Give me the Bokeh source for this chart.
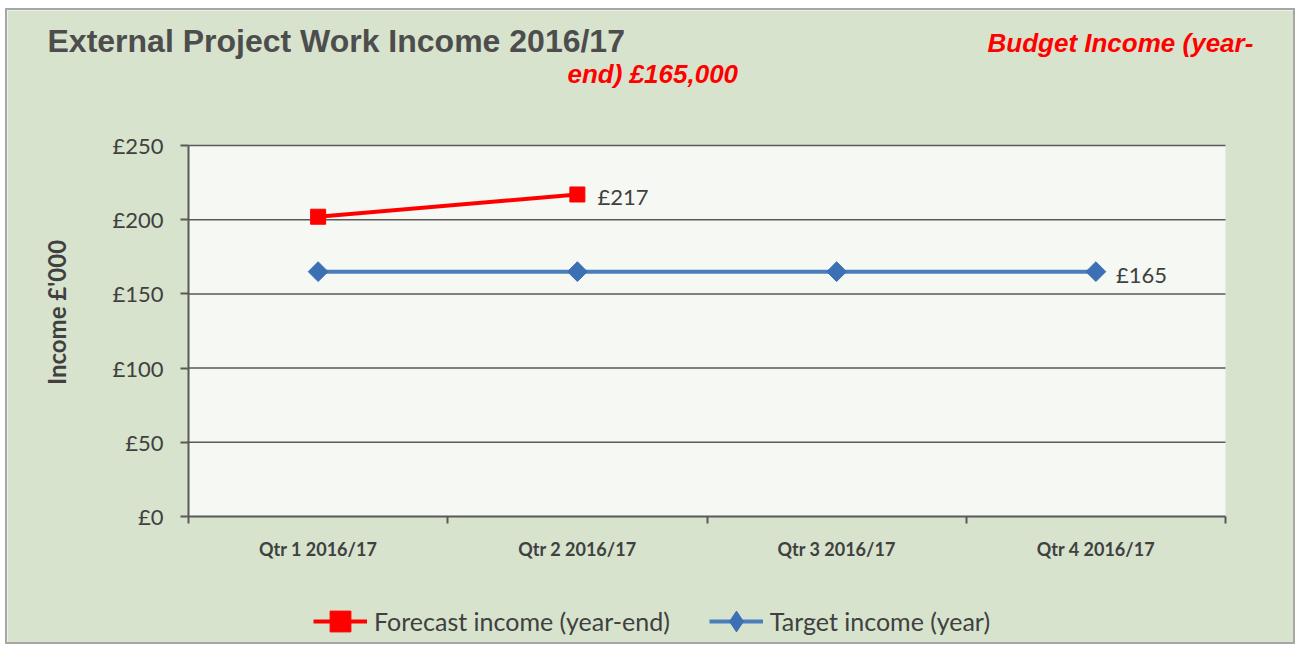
from bokeh.plotting import figure
from bokeh.models import (ColumnDataSource, Range1d, LinearAxis, FixedTicker, BoxAnnotation,
                          Label, Legend, LegendItem, CustomJSTickFormatter)
from bokeh.core.properties import value
from bokeh.embed import file_html
from bokeh.resources import INLINE
import math

# ---- data ----
quarters = ["Qtr 1 2016/17", "Qtr 2 2016/17", "Qtr 3 2016/17", "Qtr 4 2016/17"]
forecast_income = [202, 217]          # Qtr 1, Qtr 2
target_income = [165, 165, 165, 165]  # Qtr 1..4
y_ticks = [0, 50, 100, 150, 200, 250]
title_text = "External Project Work Income 2016/17"
budget_line1 = "Budget Income (year-"
budget_line2 = "end) £165,000"
y_label = "Income £'000"
series_names = ["Forecast income (year-end)", "Target income (year)"]

BG = "#d7e3cd"
PLOT_BG = "#f6f8f3"
GRID = "#595959"
TXT = "#404040"
RED = "#ff0000"
BLUE = "#4a7ebb"
BLUE_M = "#3b70b5"
FONT = "Lato"

# layout (pixels inside the figure)
W, H = 1290, 636
PL, PR, PT, PB = 181, 1218, 135, 506      # plot-area edges, from figure top-left
n = len(quarters)
ymax = y_ticks[-1]
sx = (PR - PL) / n
sy = (PB - PT) / ymax
x_range = Range1d(-PL / sx, n + (W - PR) / sx)
y_range = Range1d(-(H - PB) / sy, ymax + PT / sy)

p = figure(width=W, height=H, x_range=x_range, y_range=y_range,
           x_axis_location=None, y_axis_location=None, min_border=0,
           output_backend="svg", toolbar_location=None)
p.styles = {"border": "2px solid #a6a6a6", "margin-left": "5px", "margin-top": "8px"}
p.grid.visible = False
p.outline_line_color = None
p.background_fill_color = BG
p.border_fill_color = BG

# plot area background
p.add_layout(BoxAnnotation(left=0, right=n, bottom=y_ticks[0], top=ymax,
                           fill_color=PLOT_BG, fill_alpha=1, line_color=None, level="underlay"))
# horizontal gridlines at tick values
p.segment(x0=[0] * (len(y_ticks) - 1), x1=[n] * (len(y_ticks) - 1), y0=y_ticks[1:], y1=y_ticks[1:],
          line_color=GRID, line_width=1.5)

# y axis
ya = LinearAxis(fixed_location=0, bounds=(y_ticks[0], ymax), ticker=FixedTicker(ticks=y_ticks),
                formatter=CustomJSTickFormatter(code="return '£' + tick.toFixed(0);"),
                axis_line_color=GRID, axis_line_width=2,
                major_tick_line_color=GRID, major_tick_line_width=2, major_tick_out=8, major_tick_in=0,
                minor_tick_line_color=None,
                major_label_text_font=FONT, major_label_text_font_size="22px",
                major_label_text_color=TXT, major_label_standoff=17)
p.add_layout(ya, "left")

# x axis: boundary tick marks
xa = LinearAxis(fixed_location=0, bounds=(0, n), ticker=FixedTicker(ticks=list(range(n + 1))),
                major_label_text_font_size="0px", major_label_standoff=0,
                axis_line_color=GRID, axis_line_width=2,
                major_tick_line_color=GRID, major_tick_line_width=2, major_tick_out=7, major_tick_in=0,
                minor_tick_line_color=None)
p.add_layout(xa, "below")
# x axis: category names at the category centres
qx = [i + 0.5 for i in range(n)]
xc = LinearAxis(fixed_location=0, ticker=FixedTicker(ticks=qx),
                formatter=CustomJSTickFormatter(args=dict(names=quarters),
                                                code="return names[Math.floor(tick)];"),
                axis_line_color=None, major_tick_line_color=None, minor_tick_line_color=None,
                major_label_text_font=FONT, major_label_text_font_style="bold",
                major_label_text_font_size="18px", major_label_text_color=TXT,
                major_label_standoff=15)
p.add_layout(xc, "below")

# series
fsrc = ColumnDataSource(dict(x=qx[:len(forecast_income)], y=forecast_income))
tsrc = ColumnDataSource(dict(x=qx, y=target_income))
fl = p.line("x", "y", source=fsrc, line_color=RED, line_width=4)
fm = p.scatter("x", "y", source=fsrc, marker="square", size=15, fill_color=RED, line_color=RED)
tl = p.line("x", "y", source=tsrc, line_color=BLUE, line_width=4)
tm_key = p.scatter("x", "y", source=tsrc, marker="diamond", size=13,
                   fill_color=BLUE_M, line_color=BLUE_M)
tm = p.scatter("x", "y", source=tsrc, marker="square", angle=math.pi / 4, size=14,
               fill_color=BLUE_M, line_color=BLUE_M)

# data labels on the last points
p.text(x=[fsrc.data["x"][-1]], y=[forecast_income[-1]], text=["£%d" % forecast_income[-1]],
       x_offset=20, y_offset=2, text_font=value(FONT), text_font_size="22px",
       text_color=TXT, text_baseline="middle", text_align="left")
p.text(x=[qx[-1]], y=[target_income[-1]], text=["£%d" % target_income[-1]],
       x_offset=20, y_offset=3, text_font=value(FONT), text_font_size="22px",
       text_color=TXT, text_baseline="middle", text_align="left")

# texts (screen units: from the figure's bottom-left corner)
p.add_layout(Label(x=40, y=H - 30, x_units="screen", y_units="screen", text=title_text,
                   text_font="Liberation Sans", text_font_style="bold", text_font_size="32px",
                   text_color="#4d4d4d", text_baseline="middle", text_align="left"))
p.add_layout(Label(x=980, y=H - 32, x_units="screen", y_units="screen", text=budget_line1,
                   text_font="Liberation Sans", text_font_style="bold italic", text_font_size="26px",
                   text_color=RED, text_baseline="middle", text_align="left"))
p.add_layout(Label(x=560, y=H - 63, x_units="screen", y_units="screen", text=budget_line2,
                   text_font="Liberation Sans", text_font_style="bold italic", text_font_size="26px",
                   text_color=RED, text_baseline="middle", text_align="left"))
p.add_layout(Label(x=49, y=H - 302, x_units="screen", y_units="screen", text=y_label, angle=math.pi / 2,
                   text_font=FONT, text_font_style="bold", text_font_size="24px",
                   text_color=TXT, text_baseline="middle", text_align="center"))

legend = Legend(items=[LegendItem(label=series_names[0], renderers=[fl, fm]),
                       LegendItem(label=series_names[1], renderers=[tl, tm_key])],
                location=(306, -1), orientation="horizontal",
                glyph_width=54, glyph_height=52, label_standoff=7, spacing=39,
                padding=0, margin=0, border_line_color=None, background_fill_alpha=0,
                label_text_font=FONT, label_text_font_size="25px", label_text_color=TXT)
p.add_layout(legend, "center")

open("out.html", "w").write(file_html(p, INLINE))
